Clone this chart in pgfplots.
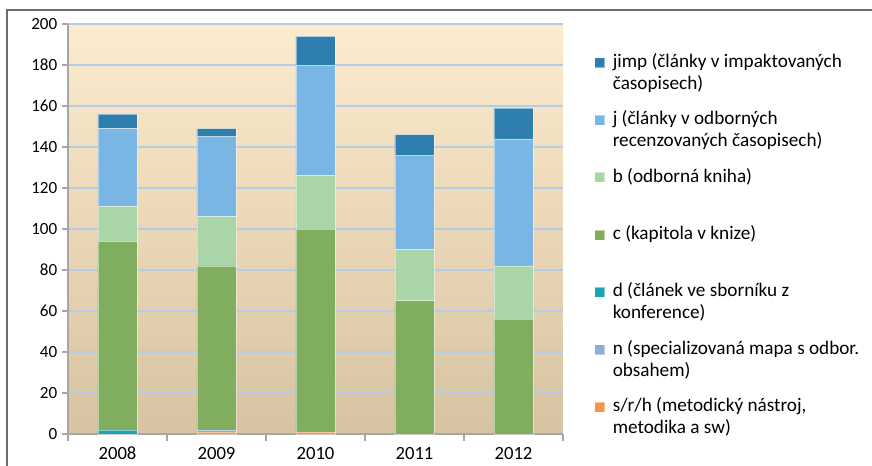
\documentclass[border=0pt]{standalone}
\usepackage{pgfplots}
\pgfplotsset{compat=1.18}
\usepackage{fontspec}
\setmainfont{Carlito}

\definecolor{jimpc}{HTML}{2E7EB0}
\definecolor{jc}{HTML}{7AB6E3}
\definecolor{bc}{HTML}{A9D5A9}
\definecolor{cc}{HTML}{80AE5E}
\definecolor{dc}{HTML}{1BA4B6}
\definecolor{nc}{HTML}{8BAED4}
\definecolor{sc}{HTML}{F79446}
\definecolor{gridc}{HTML}{B4CDE6}
\definecolor{bgtop}{HTML}{FDEBCE}
\definecolor{bgmid}{HTML}{F0E7D3}
\definecolor{bgbot}{HTML}{D5C3A1}
\definecolor{axc}{HTML}{A6A6A6}

\newcommand{\leg}[2]{\parbox[t]{230pt}{\strut #1\\#2\strut}}

\begin{document}
\begin{tikzpicture}
\path[use as bounding box] (-51pt,-23.25pt) rectangle (603pt,325.5pt);
\draw[color=gray!85!black, line width=0.8pt] (-45.75pt,-40pt) -- (-45.75pt,318pt) -- (620pt,318pt);
\begin{axis}[
    scale only axis,
    width=371.25pt, height=307.5pt,
    ybar stacked,
    bar width=29.25pt,
    xmin=-0.5, xmax=4.5,
    ymin=0, ymax=200,
    xtick={0,1,2,3,4},
    xticklabels={2008,2009,2010,2011,2012},
    minor xtick={-0.5,0.5,1.5,2.5,3.5,4.5},
    ytick={0,20,...,200},
    axis x line*=bottom, axis y line*=left,
    axis line style={axc, line width=1.2pt},
    tick align=outside,
    major tick length=4.5pt,
    minor tick length=5.25pt,
    major x tick style={draw=none},
    minor x tick style={axc, line width=0.8pt},
    y tick style={axc, line width=0.8pt},
    ymajorgrids,
    major y grid style={gridc, line width=1pt},
    axis background/.style={shade, top color=bgtop, middle color=bgmid, bottom color=bgbot},
    xticklabel style={font=\fontsize{14}{16}\selectfont, yshift=-4pt, inner sep=1pt},
    yticklabel style={font=\fontsize{12.8}{15}\selectfont},
    /pgf/number format/assume math mode=true,
    every axis plot/.append style={draw=white, draw opacity=0.45, line width=0.4pt},
    legend image code/.code={\fill[#1] (0pt,-0.3pt) rectangle (7.5pt,7.2pt);},
    reverse legend,
    legend cell align=left,
    legend style={at={(1,1)}, anchor=north west, xshift=23.25pt, yshift=-20.7pt,
        draw=none, fill=none, inner sep=0pt, row sep=30pt, column sep=6pt,
        font=\fontsize{14.4}{16.5}\selectfont,
        cells={anchor=base west}, nodes={inner sep=0pt}},
]
\addplot[fill=sc] coordinates {(0,0) (1,1) (2,1) (3,0) (4,0)};
\addlegendentry{\leg{s/r/h (metodický nástroj,}{metodika a sw)}}
\addplot[fill=nc] coordinates {(0,0) (1,1) (2,0) (3,0) (4,0)};
\addlegendentry{\leg{n (specializovaná mapa s odbor.}{obsahem)}}
\addplot[fill=dc] coordinates {(0,2) (1,0) (2,0) (3,0) (4,0)};
\addlegendentry{\leg{d (článek ve sborníku z}{konference)}}
\addplot[fill=cc] coordinates {(0,92) (1,80) (2,99) (3,65) (4,56)};
\addlegendentry{\leg{c (kapitola v knize)}{}}
\addplot[fill=bc] coordinates {(0,17) (1,24) (2,26) (3,25) (4,26)};
\addlegendentry{\leg{b (odborná kniha)}{}}
\addplot[fill=jc] coordinates {(0,38) (1,39) (2,54) (3,46) (4,62)};
\addlegendentry{\leg{j (články v odborných}{recenzovaných časopisech)}}
\addplot[fill=jimpc] coordinates {(0,7) (1,4) (2,14) (3,10) (4,15)};
\addlegendentry{\leg{jimp (články v impaktovaných}{časopisech)}}
\end{axis}
\end{tikzpicture}
\end{document}
